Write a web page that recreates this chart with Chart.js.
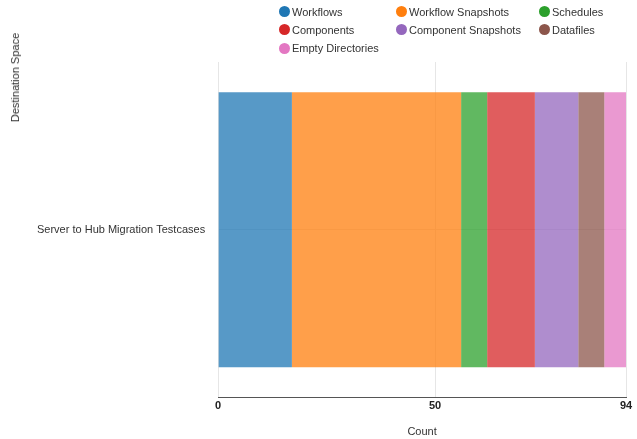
<!DOCTYPE html>
<html>
<head>
<meta charset="utf-8">
<title>Destination Space counts</title>
<script src="https://cdn.jsdelivr.net/npm/chart.js@4.4.1/dist/chart.umd.min.js"></script>
<style>
  html, body { margin: 0; padding: 0; background: #fff; }
  #wrap { position: relative; width: 637px; height: 439px; }
  /* legend laid out as a 3 column grid, like the original */
  #legend {
    position: absolute; left: 279px; top: 2.5px;
    display: grid; grid-template-columns: 117px 143px auto; grid-auto-rows: 18.3px;
    font: 11px "Liberation Sans", Arial, sans-serif; color: #333;
  }
  .item { display: flex; align-items: center; white-space: nowrap; }
  .dot { width: 11px; height: 11px; border-radius: 50%; margin-right: 2px; }
  /* y axis title sits above the plot top, so it lives outside the canvas */
  #yTitle {
    position: absolute; left: 8.5px; top: 33px;
    writing-mode: vertical-rl; transform: rotate(180deg);
    font: 11px/13px "Liberation Sans", Arial, sans-serif; color: #333; white-space: nowrap;
  }
</style>
</head>
<body>
<div id="wrap">
  <canvas id="myChart" width="637" height="439"></canvas>
  <div id="legend"></div>
  <div id="yTitle"></div>
</div>
<script>
// categories (one destination space)
const categories = ["Server to Hub Migration Testcases"];

// series
const seriesNames = [
  "Workflows",
  "Workflow Snapshots",
  "Schedules",
  "Components",
  "Component Snapshots",
  "Datafiles",
  "Empty Directories",
];
const seriesColors = ["#1f77b4", "#ff7f0e", "#2ca02c", "#d62728", "#9467bd", "#8c564b", "#e377c2"];
const counts = [17, 39, 6, 11, 10, 6, 5];

// x axis ticks
const xTicks = [0, 50, 94];

// axis titles
const xTitle = "Count";
const yTitle = "Destination Space";

// helper:: hex -> rgba
function fade(hex, alpha) {
  const n = parseInt(hex.slice(1), 16);
  return `rgba(${(n >> 16) & 255}, ${(n >> 8) & 255}, ${n & 255}, ${alpha})`;
}

Chart.defaults.font.family = '"Liberation Sans", Arial, sans-serif';
Chart.defaults.font.size = 11;
Chart.defaults.color = "#333";

const datasets = seriesNames.map((name, i) => ({
  label: name,
  data: [counts[i]],
  backgroundColor: fade(seriesColors[i], 0.75),
  borderWidth: 0,
  barPercentage: 0.9,
  categoryPercentage: 0.91,
}));

const chart = new Chart(document.getElementById("myChart"), {
  type: "bar",
  data: { labels: categories, datasets },
  options: {
    indexAxis: "y",
    responsive: false,
    animation: false,
    // left padding leaves room for the html y title
    layout: { padding: { left: 24, right: 11, top: 62, bottom: 0 } },
    plugins: {
      legend: { display: false },
    },
    scales: {
      x: {
        stacked: true,
        min: 0,
        max: 94,
        afterBuildTicks: (scale) => {
          scale.ticks = xTicks.map((v) => ({ value: v }));
        },
        ticks: { padding: 2, color: "#222", font: { weight: "bold" }, autoSkip: false, maxRotation: 0 },
        grid: { color: "#e6e6e6", drawTicks: false },
        border: { color: "#555", width: 1 },
        title: { display: true, text: xTitle, padding: { top: 11, bottom: 0 } },
      },
      y: {
        stacked: true,
        ticks: { padding: 13 },
        grid: { color: "#e6e6e6", offset: false, drawTicks: false },
        border: { display: false },
      },
    },
  },
});

document.getElementById("yTitle").textContent = yTitle;

// html legend built from the chart's own datasets
const legendBox = document.getElementById("legend");
chart.data.datasets.forEach((ds, i) => {
  const item = document.createElement("div");
  item.className = "item";
  const dot = document.createElement("span");
  dot.className = "dot";
  dot.style.background = seriesColors[i];
  item.appendChild(dot);
  item.appendChild(document.createTextNode(ds.label));
  legendBox.appendChild(item);
});
</script>
</body>
</html>
